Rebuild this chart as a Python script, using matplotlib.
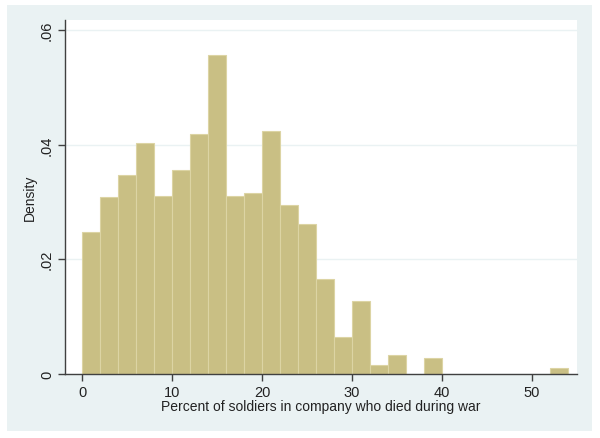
import matplotlib.pyplot as plt
import numpy as np
from matplotlib.patches import Rectangle

# bin edges (width 2) and density of each bin
bin_edges = np.arange(0, 56, 2)
density = [0.0247, 0.0309, 0.0347, 0.0403, 0.0311, 0.0356, 0.0419, 0.0556,
           0.0311, 0.0316, 0.0424, 0.0294, 0.0261, 0.0166, 0.0065, 0.0127,
           0.0015, 0.0033, 0.0, 0.0028, 0.0, 0.0, 0.0, 0.0, 0.0, 0.0, 0.0010]
x_ticks = [0, 10, 20, 30, 40, 50]
y_ticks = [0, 0.02, 0.04, 0.06]
y_tick_labels = ["0", ".02", ".04", ".06"]

plt.rcParams['font.family'] = ['Liberation Sans', 'DejaVu Sans']

fig = plt.figure(figsize=(6, 4.39), dpi=100)
fig.patch.set_facecolor("white")
fig.patches.append(Rectangle((7 / 600, 7 / 439), 585 / 600, 426 / 439,
                             transform=fig.transFigure, facecolor="#EAF2F3",
                             edgecolor="none", zorder=-10))

ax = fig.add_axes([65 / 600, 64 / 439, 512 / 600, 354 / 439])
ax.set_zorder(1)
ax.set_facecolor("white")

lefts = bin_edges[:-1]
heights = np.array(density)
mask = heights > 0
ax.bar(lefts[mask], heights[mask], width=2, align="edge",
       color="#C9BF84", edgecolor="#DCD4A4", linewidth=0.8, zorder=2)

ax.set_xlim(-1.89, 55.0)
ax.set_ylim(0, 0.0617)

ax.set_xticks(x_ticks)
ax.set_yticks(y_ticks)
ax.set_yticklabels(y_tick_labels, rotation=90, va="center")
ax.grid(axis="y", color="#EAF2F3", linewidth=1, zorder=1)
ax.set_axisbelow(True)

for side in ["top", "right"]:
    ax.spines[side].set_visible(False)
for side in ["left", "bottom"]:
    ax.spines[side].set_color("#404040")
    ax.spines[side].set_linewidth(1)
ax.tick_params(axis="both", colors="#404040", labelcolor="#222222",
               labelsize=10.5, length=5, width=1, pad=3)

ax.set_xlabel("Percent of soldiers in company who died during war",
              fontsize=10, color="#222222", labelpad=0)
ax.set_ylabel("Density", fontsize=10, color="#222222", labelpad=2)

fig.savefig("out.png", dpi=100)
